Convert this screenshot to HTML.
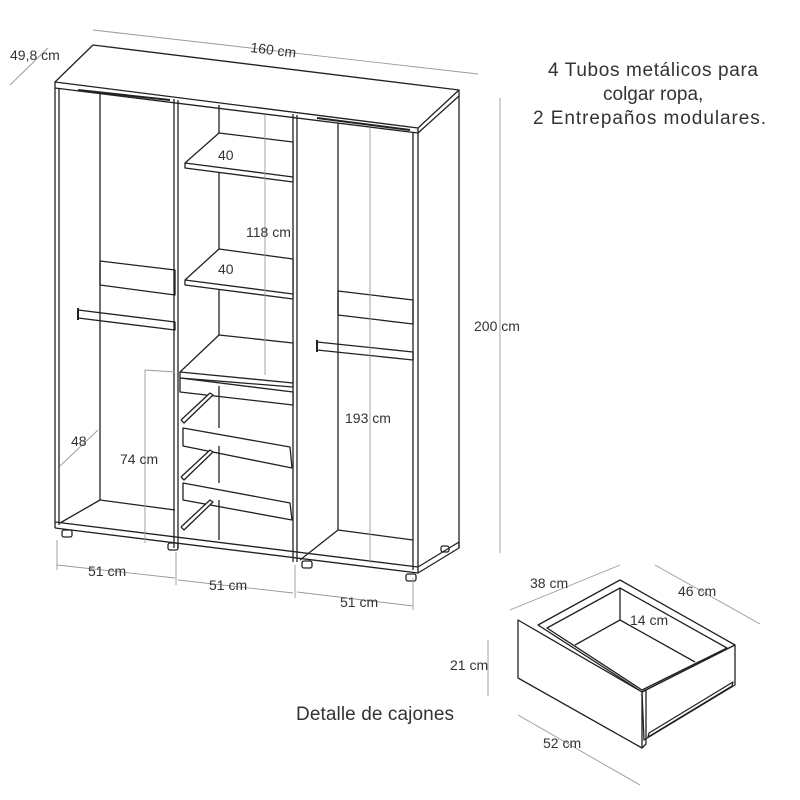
<!DOCTYPE html>
<html><head><meta charset="utf-8"><style>
body{margin:0;background:#fff}
svg{display:block}
text{font-family:"Liberation Sans",sans-serif;fill:#333;font-weight:normal}
</style></head><body>
<svg width="800" height="800" viewBox="0 0 800 800" xmlns="http://www.w3.org/2000/svg">
<g fill="none" stroke="#222" stroke-width="1.3" stroke-linejoin="round">
<polygon points="55,82 93,45 459,90 418,128"/>
<polyline points="55,82 55,88 418,133 418,128"/>
<polyline points="418,133 459,96 459,90"/>
<line x1="55" y1="88" x2="55" y2="528"/>
<line x1="59" y1="89" x2="59" y2="525"/>
<line x1="418" y1="133" x2="418" y2="573"/>
<line x1="413" y1="133" x2="413" y2="570"/>
<line x1="459" y1="96" x2="459" y2="548"/>
<polyline points="55,522 418,567"/>
<polyline points="55,528 418,573 459,548 459,542 418,567"/>
<line x1="100" y1="92" x2="100" y2="500"/>
<line x1="100" y1="500" x2="175" y2="510"/>
<line x1="60" y1="523" x2="100" y2="500"/>
<line x1="78" y1="90" x2="170" y2="100" stroke-width="2"/>
<line x1="174" y1="99" x2="174" y2="548"/>
<line x1="178" y1="100" x2="178" y2="548"/>
<line x1="293" y1="114" x2="293" y2="562"/>
<line x1="297" y1="115" x2="297" y2="562"/>
<line x1="219" y1="105" x2="219" y2="337"/>
<polygon points="185,163 219,133 293,142 293,182 185,168" fill="#fff"/>
<line x1="185" y1="163" x2="293" y2="177"/>
<polygon points="185,280 219,249 293,259 293,299 185,285" fill="#fff"/>
<line x1="185" y1="280" x2="293" y2="294"/>
<polygon points="180,372 219,335 293,343 293,387 180,378" fill="#fff"/>
<line x1="180" y1="372" x2="293" y2="383"/>
<polygon points="180,378 293,392 293,405 180,392" fill="#fff"/>
<polygon points="183,428 290,447 292,468 183,446" fill="#fff"/>
<polygon points="183,483 290,503 292,520 183,500" fill="#fff"/>
<line x1="219" y1="386" x2="219" y2="428"/>
<line x1="219" y1="446" x2="219" y2="483"/>
<line x1="219" y1="500" x2="219" y2="540"/>
<polyline points="181,420 210,393 213,395 184,423 181,420" fill="#fff"/>
<polyline points="181,477 210,450 213,452 184,480 181,477" fill="#fff"/>
<polyline points="181,527 210,500 213,502 184,530 181,527" fill="#fff"/>
<line x1="338" y1="123" x2="338" y2="530"/>
<line x1="338" y1="530" x2="413" y2="540"/>
<line x1="300" y1="560" x2="338" y2="530"/>
<line x1="317" y1="118" x2="410" y2="130" stroke-width="2"/>
<polygon points="100,261 175,270 175,295 100,285"/>
<polygon points="338,291 413,300 413,324 338,315"/>
<polygon points="78,310 175,322 175,330 78,318"/>
<line x1="78" y1="308" x2="78" y2="320" stroke-width="2"/>
<polygon points="317,342 413,352 413,360 317,350"/>
<line x1="317" y1="340" x2="317" y2="352" stroke-width="2"/>
<rect x="62" y="530" width="10" height="7" rx="2"/>
<rect x="168" y="543" width="10" height="7" rx="2"/>
<rect x="302" y="561" width="10" height="7" rx="2"/>
<rect x="406" y="574" width="10" height="7" rx="2"/>
<rect x="441" y="546" width="8" height="6" rx="2"/>
</g>
<g stroke="#999" stroke-width="0.9" fill="none">
<line x1="93" y1="30" x2="478" y2="74"/>
<line x1="10" y1="85" x2="48" y2="48"/>
<line x1="500" y1="98" x2="500" y2="553"/>
<line x1="265" y1="115" x2="265" y2="375"/>
<line x1="370" y1="128" x2="370" y2="563"/>
<line x1="145" y1="370" x2="145" y2="543"/>
<line x1="145" y1="370" x2="175" y2="372"/>
<line x1="60" y1="466" x2="98" y2="430"/>
<line x1="57" y1="565" x2="175" y2="578"/>
<line x1="178" y1="580" x2="293" y2="593"/>
<line x1="297" y1="592" x2="413" y2="606"/>
<line x1="57" y1="540" x2="57" y2="570"/>
<line x1="176" y1="552" x2="176" y2="585"/>
<line x1="295" y1="565" x2="295" y2="598"/>
<line x1="413" y1="578" x2="413" y2="610"/>
<line x1="488" y1="640" x2="488" y2="696"/>
<line x1="510" y1="610" x2="620" y2="565"/>
<line x1="655" y1="565" x2="760" y2="624"/>
<line x1="518" y1="715" x2="640" y2="785"/>
<line x1="652" y1="610" x2="652" y2="640"/>
</g>
<g fill="#fff" stroke="#222" stroke-width="1.3" stroke-linejoin="round">
<polygon points="538,625 620,580 735,645 642,692"/>
<polygon points="547,628 620,588 727,648 642,690"/>
<polyline points="620,588 620,620 575,645" fill="none"/>
<line x1="620" y1="620" x2="695" y2="662"/>
<polygon points="642,692 735,645 735,685 644,740"/>
<polygon points="518,620 642,692 642,748 518,678"/>
<polyline points="642,692 646,690 646,744 642,748" fill="none"/>
<polygon points="648,737 732,686 733,682 649,733"/>
</g>
<g font-size="14">
<text x="250" y="52" transform="rotate(7 250 52)">160 cm</text>
<text x="10" y="60">49,8 cm</text>
<text x="474" y="331">200 cm</text>
<text x="246" y="237">118 cm</text>
<text x="218" y="160">40</text>
<text x="218" y="274">40</text>
<text x="345" y="423">193 cm</text>
<text x="120" y="464">74 cm</text>
<text x="71" y="446">48</text>
<text x="88" y="576">51 cm</text>
<text x="209" y="590">51 cm</text>
<text x="340" y="607">51 cm</text>
<text x="530" y="588">38 cm</text>
<text x="678" y="596">46 cm</text>
<text x="630" y="625">14 cm</text>
<text x="450" y="670">21 cm</text>
<text x="543" y="748">52 cm</text>
</g>
<g font-size="19">
<text x="548" y="76" textLength="210">4 Tubos metálicos para</text>
<text x="603" y="100">colgar ropa,</text>
<text x="533" y="124" textLength="233">2 Entrepaños modulares.</text>
<text x="296" y="720" textLength="158">Detalle de cajones</text>
</g>
</svg>
</body></html>
